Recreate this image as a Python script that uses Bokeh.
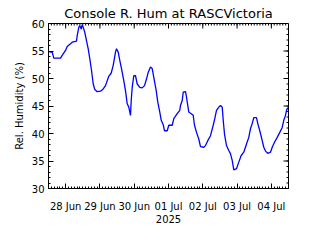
import math
import pandas as pd
from bokeh.plotting import figure
from bokeh.models import (FixedTicker, SingleIntervalTicker, DatetimeTickFormatter,
                          LinearAxis, DatetimeAxis, Range1d)
from bokeh.embed import file_html
from bokeh.resources import INLINE

# ---- data ----
start_time = "2025-06-27 12:00"
end_time = "2025-07-04 12:00"
hours_from_start = [0.7, 2.6, 3.7, 8.4, 9.6, 11.9, 13.1, 15.4, 16.6, 19.6, 20.1, 21.2, 21.9,
                    22.9, 23.6, 24.3, 25.4, 26.6, 27.8, 28.9, 30.1, 31.3, 32.4, 34.1, 36.4,
                    38.3, 39.9, 42.2, 43.9, 45.3, 46.9, 47.6, 48.8, 49.9, 51.1, 52.7, 53.9,
                    55.1, 56.2, 57.4, 57.9, 58.6, 59.7, 60.9, 62.1, 63.9, 65.6, 67.2, 68.6,
                    69.8, 71.4, 72.6, 73.7, 75.4, 76.5, 77.9, 78.9, 80.3, 81.2, 83.1, 84.2,
                    86.6, 87.7, 90.1, 91.9, 92.4, 93.6, 94.3, 95.9, 96.6, 98.2, 99.9, 101.3,
                    102.2, 103.6, 105.2, 106.4, 108.7, 109.9, 111.5, 113.4, 115.3, 116.4,
                    117.6, 119.2, 120.4, 121.6, 122.3, 123.2, 124.6, 126.2, 127.4, 128.6,
                    129.7, 131.6, 133.2, 134.9, 136.7, 138.6, 140.2, 141.4, 142.6, 143.7,
                    145.6, 146.5, 147.9, 149.6, 150.7, 151.9, 153.5, 155.4, 156.6, 158.2,
                    160.1, 161.9, 163.6, 164.7, 165.9, 166.6, 167.5]
humidity = [54.8, 54.8, 53.7, 53.7, 54.2, 55.1, 55.8, 56.3, 56.6, 56.8, 57.8, 59.3, 59.6,
            59.0, 59.8, 59.3, 58.4, 56.9, 55.4, 53.6, 51.5, 49.0, 48.0, 47.6, 47.7,
            48.1, 48.7, 50.4, 51.0, 52.4, 54.8, 55.4, 54.8, 53.3, 51.8, 49.6, 47.8,
            45.4, 44.8, 43.3, 46.0, 48.4, 50.5, 50.5, 49.0, 48.4, 48.3, 48.7, 49.9,
            51.1, 52.1, 51.8, 50.2, 47.8, 45.7, 43.9, 42.4, 41.6, 40.5, 40.5, 41.5,
            41.5, 42.7, 43.6, 44.2, 45.1, 46.0, 47.5, 47.6, 46.6, 43.9, 43.6, 43.3,
            41.5, 40.2, 39.0, 37.6, 37.5, 37.8, 38.7, 39.6, 41.5, 42.7,
            44.2, 44.8, 45.1, 44.8, 42.4, 39.9, 37.8, 36.9, 36.3, 35.1,
            33.4, 33.6, 34.8, 36.0, 36.6, 38.1, 39.3, 40.9, 41.8, 42.9,
            42.9, 41.8, 40.5, 38.7, 37.5, 36.8, 36.4, 36.6, 37.5, 38.4,
            39.3, 40.2, 41.1, 42.4, 43.3, 44.2, 44.7]
title_text = "Console R. Hum at RASCVictoria"
y_label = "Rel. Humidity (%)"
x_label = "2025"
y_min, y_max = 30, 60

t0 = pd.Timestamp(start_time)
t1 = pd.Timestamp(end_time)
times = [t0 + pd.Timedelta(hours=h) for h in hours_from_start]

FONT = "DejaVu Sans"

p = figure(width=320, height=240, x_axis_type=None, y_axis_type=None,
           output_backend="svg", toolbar_location=None,
           x_range=Range1d(t0, t1), y_range=Range1d(y_min, y_max),
           min_border_left=48, min_border_right=32, min_border_top=23, min_border_bottom=52)
p.background_fill_color = "white"
p.border_fill_color = "white"
p.outline_line_color = "black"
p.outline_line_width = 1

# tick positions
major_days = pd.date_range(t0.normalize(), t1 + pd.Timedelta(days=1), freq="1D")
minor_hours = pd.date_range(t0.normalize(), t1 + pd.Timedelta(days=1), freq="2h")
majors = [int(t.value // 10**6) for t in major_days]
minors = [int(t.value // 10**6) for t in minor_hours]
xt = FixedTicker(ticks=majors, minor_ticks=minors)
yt = SingleIntervalTicker(interval=5, num_minor_ticks=5)
fmt = DatetimeTickFormatter(days="%d %b", hours="%d %b", months="%d %b")


def style(ax):
    ax.axis_line_color = "black"
    ax.major_tick_in = 5
    ax.major_tick_out = 0
    ax.minor_tick_in = 2
    ax.minor_tick_out = 0
    ax.major_tick_line_color = "black"
    ax.minor_tick_line_color = "black"
    ax.major_label_text_font = FONT
    ax.major_label_text_font_size = "10px"
    ax.major_label_text_color = "black"
    ax.axis_label_text_font = FONT
    ax.axis_label_text_font_size = "10px"
    ax.axis_label_text_font_style = "normal"
    ax.axis_label_text_color = "black"


bx = DatetimeAxis(ticker=xt, formatter=fmt, axis_label=x_label)
style(bx)
bx.major_label_standoff = 12
bx.axis_label_standoff = 0
p.add_layout(bx, "below")

ly = LinearAxis(ticker=yt, axis_label=y_label)
style(ly)
ly.major_label_standoff = 4
ly.axis_label_standoff = 4
p.add_layout(ly, "left")

# mirrored inward ticks on the top and right edges
in_range_major = [t for t in major_days if t0 <= t <= t1]
in_range_minor = [t for t in minor_hours if t0 <= t <= t1]
p.ray(x=in_range_major, y=[y_max] * len(in_range_major), length=5, length_units="screen",
      angle=-math.pi / 2, line_color="black", line_width=1)
p.ray(x=in_range_minor, y=[y_max] * len(in_range_minor), length=2, length_units="screen",
      angle=-math.pi / 2, line_color="black", line_width=1)
y_major = list(range(y_min, y_max + 1, 5))
y_minor = list(range(y_min, y_max + 1, 1))
p.ray(x=[t1] * len(y_major), y=y_major, length=5, length_units="screen",
      angle=math.pi, line_color="black", line_width=1)
p.ray(x=[t1] * len(y_minor), y=y_minor, length=2, length_units="screen",
      angle=math.pi, line_color="black", line_width=1)

p.xgrid.visible = False
p.ygrid.ticker = yt
p.ygrid.grid_line_color = "#aaaaaa"
p.ygrid.grid_line_dash = "1 3"

p.title.text = title_text
p.title.align = "center"
p.title.text_font = FONT
p.title.text_font_size = "13px"
p.title.text_font_style = "normal"
p.title.text_color = "black"
p.title.standoff = 5

p.line(times, humidity, line_color="#0000ff", line_width=1.3)

open("out.html", "w").write(file_html(p, INLINE))
